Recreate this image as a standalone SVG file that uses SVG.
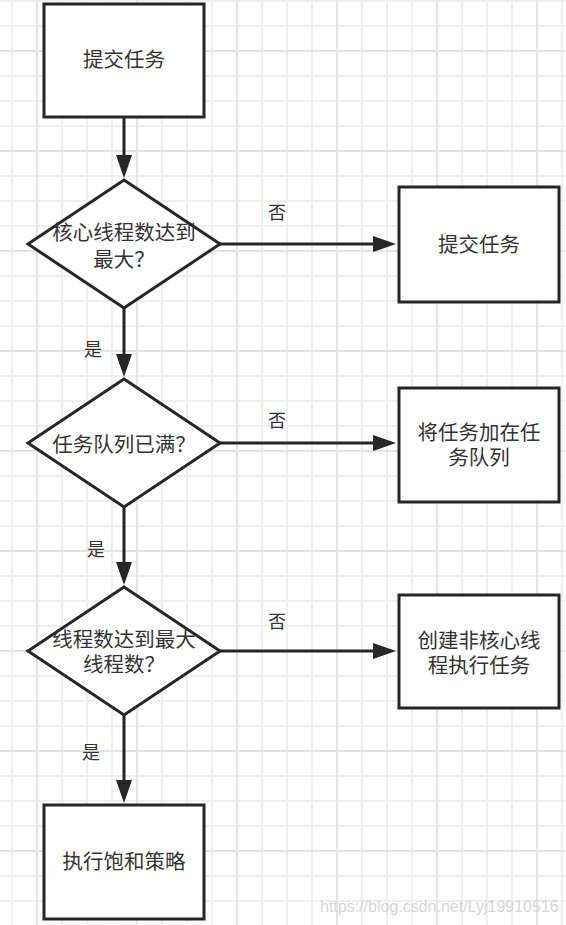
<svg xmlns="http://www.w3.org/2000/svg" width="566" height="925" viewBox="0 0 566 925">
  <defs>
    <pattern id="grid" x="11" y="0" width="100" height="100" patternUnits="userSpaceOnUse">
      <path d="M0,1H100M0,26H100M0,76H100M1,0V100M51,0V100M76,0V100" stroke="#efefef" stroke-width="2" fill="none"/>
      <path d="M0,51H100M26,0V100" stroke="#e4e4e4" stroke-width="2" fill="none"/>
    </pattern>
    <marker id="arrow" markerUnits="userSpaceOnUse" markerWidth="24" markerHeight="16" refX="0" refY="8" orient="auto" overflow="visible">
      <path d="M0,0 L23,8 L0,16 Z" fill="#262626"/>
    </marker>
    <style>
      .shape { fill: #ffffff; stroke: #262626; stroke-width: 3; stroke-linejoin: miter; }
      .edge { fill: none; stroke: #262626; stroke-width: 3; marker-end: url(#arrow); }
      .t { font-family: "Noto Sans CJK SC", "Noto Sans", sans-serif; font-size: 20.5px; fill: #333333; text-anchor: middle; }
      .lbl { font-family: "Noto Sans CJK SC", "Noto Sans", sans-serif; font-size: 18px; fill: #333333; text-anchor: middle; }
      .wm { font-family: "Liberation Sans", Arial, sans-serif; font-size: 16px; fill: #d6d6d6; }
    </style>
  </defs>

  <rect x="0" y="0" width="566" height="925" fill="#ffffff"/>
  <rect x="0" y="0" width="566" height="925" fill="url(#grid)"/>

  <g id="connectors">
    <line class="edge" x1="124" y1="118" x2="124" y2="155"/>
    <line class="edge" x1="220" y1="244" x2="373" y2="244"/>
    <line class="edge" x1="124" y1="308" x2="124" y2="354"/>
    <line class="edge" x1="220" y1="443" x2="373" y2="443"/>
    <line class="edge" x1="124" y1="507" x2="124" y2="562"/>
    <line class="edge" x1="220" y1="651" x2="373" y2="651"/>
    <line class="edge" x1="124" y1="715" x2="124" y2="780"/>
    <text class="lbl" x="277" y="219">否</text>
    <text class="lbl" x="93" y="356">是</text>
    <text class="lbl" x="277" y="427">否</text>
    <text class="lbl" x="96" y="556">是</text>
    <text class="lbl" x="277" y="628">否</text>
    <text class="lbl" x="91" y="759">是</text>
  </g>

  <g id="start">
    <rect class="shape" x="44" y="4" width="160" height="113"/>
    <text class="t" x="124" y="67">提交任务</text>
  </g>

  <g id="decision-core">
    <polygon class="shape" points="124,180 220,244 124,308 28,244"/>
    <text class="t" x="124" y="240"><tspan x="124">核心线程数达到</tspan><tspan x="124" dy="27">最大？</tspan></text>
  </g>

  <g id="submit-task">
    <rect class="shape" x="399" y="187" width="160" height="115"/>
    <text class="t" x="479" y="252">提交任务</text>
  </g>

  <g id="decision-queue">
    <polygon class="shape" points="124,379 220,443 124,507 28,443"/>
    <text class="t" x="124" y="452">任务队列已满？</text>
  </g>

  <g id="enqueue">
    <rect class="shape" x="399" y="388" width="160" height="114"/>
    <text class="t" x="479" y="440"><tspan x="479">将任务加在任</tspan><tspan x="479" dy="25">务队列</tspan></text>
  </g>

  <g id="decision-max">
    <polygon class="shape" points="124,587 220,651 124,715 28,651"/>
    <text class="t" x="124" y="647"><tspan x="124">线程数达到最大</tspan><tspan x="124" dy="25">线程数？</tspan></text>
  </g>

  <g id="create-thread">
    <rect class="shape" x="399" y="595" width="160" height="113"/>
    <text class="t" x="479" y="648"><tspan x="479">创建非核心线</tspan><tspan x="479" dy="25">程执行任务</tspan></text>
  </g>

  <g id="reject">
    <rect class="shape" x="44" y="805" width="160" height="114"/>
    <text class="t" x="124" y="869">执行饱和策略</text>
  </g>

  <text class="wm" x="320" y="912">https://blog.csdn.net/Lyj19910516</text>
</svg>
